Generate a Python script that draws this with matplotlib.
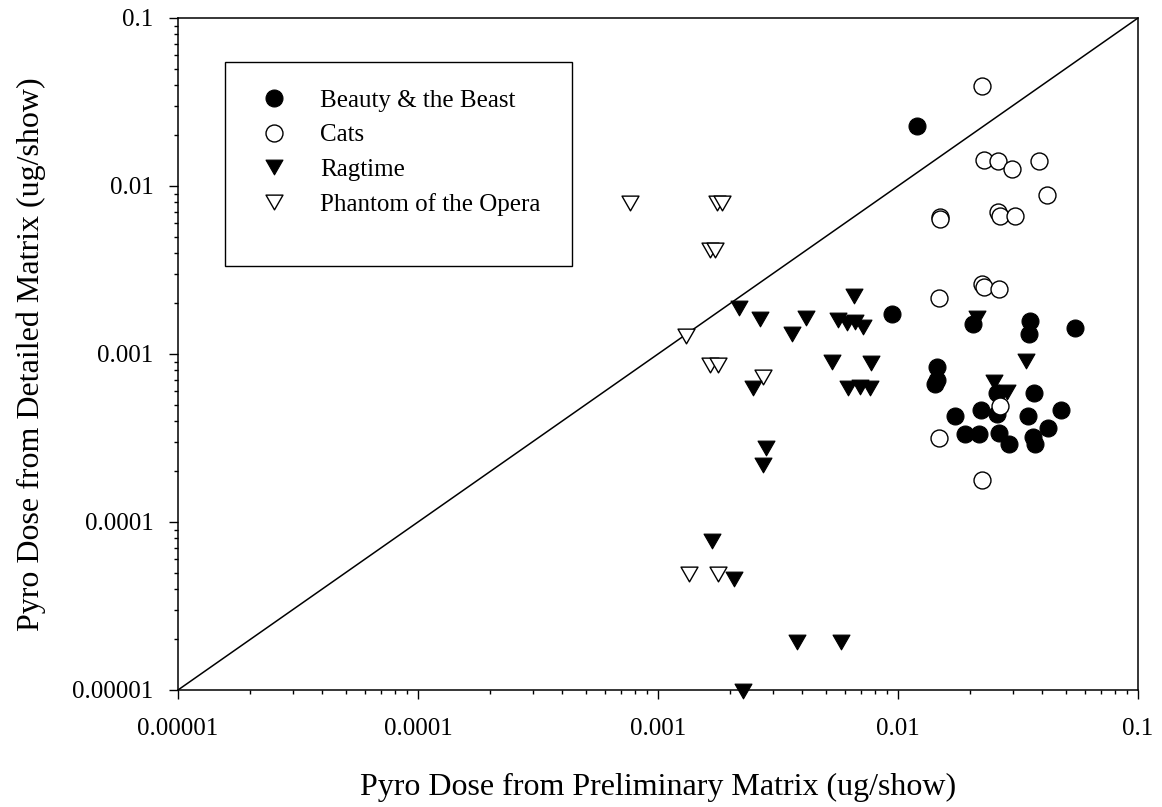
import matplotlib.pyplot as plt
from matplotlib.patches import Rectangle
from matplotlib.path import Path
from matplotlib.ticker import LogLocator

plt.rcParams['font.family'] = ['Liberation Serif', 'DejaVu Serif']

# Beauty & the Beast
beauty_x = [0.0120, 0.0094, 0.0205, 0.0355, 0.0352, 0.0545, 0.0146, 0.0145, 0.0142,
            0.0258, 0.0369, 0.0173, 0.0221, 0.0258, 0.0349, 0.0477, 0.0423, 0.0190,
            0.0217, 0.0263, 0.0290, 0.0364, 0.0372]
beauty_y = [0.0228, 0.00172, 0.00151, 0.00158, 0.00131, 0.00142, 0.000834, 0.00070, 0.000662,
            0.000589, 0.000584, 0.000428, 0.000464, 0.000439, 0.000430, 0.000464, 0.000364, 0.000333,
            0.000333, 0.000337, 0.000291, 0.000322, 0.000291]

# Cats
cats_x = [0.0223, 0.0229, 0.0260, 0.0298, 0.0386, 0.0419, 0.0150, 0.0149, 0.0260,
          0.0266, 0.0307, 0.0223, 0.0229, 0.0263, 0.0148, 0.0266, 0.0148, 0.0223]
cats_y = [0.0395, 0.0142, 0.0140, 0.0126, 0.0140, 0.0088, 0.00652, 0.00637, 0.0070,
          0.00662, 0.00662, 0.0026, 0.00249, 0.00245, 0.00215, 0.00049, 0.000315, 0.000178]

# Ragtime
ragtime_x = [0.00218, 0.00266, 0.00414, 0.00363, 0.00656, 0.00564, 0.00611, 0.00662, 0.00716,
             0.00530, 0.00769, 0.00621, 0.00695, 0.00764, 0.00248, 0.00282, 0.00275, 0.00168,
             0.00207, 0.00380, 0.00577, 0.00226, 0.0213, 0.0340, 0.0251, 0.0285]
ragtime_y = [0.00187, 0.00161, 0.00163, 0.00131, 0.00221, 0.00159, 0.00152, 0.00155, 0.00145,
             0.00090, 0.00088, 0.00063, 0.00064, 0.00063, 0.000625, 0.000275, 0.000218, 0.0000775,
             0.000046, 0.0000194, 0.0000194, 0.0000098, 0.00163, 0.000908, 0.000684, 0.000597]

# Phantom of the Opera
phantom_x = [0.000765, 0.00176, 0.00184, 0.00165, 0.00173, 0.00131, 0.00165, 0.00178,
             0.00275, 0.00135, 0.00177]
phantom_y = [0.00789, 0.00789, 0.00789, 0.00416, 0.00416, 0.00128, 0.00086, 0.00086,
             0.00073, 0.000049, 0.000049]

tick_vals = [0.00001, 0.0001, 0.001, 0.01, 0.1]
tick_text = ['0.00001', '0.0001', '0.001', '0.01', '0.1']

W, H = 1162, 807
fig = plt.figure(figsize=(W / 100, H / 100), dpi=100)
ax = fig.add_axes([178 / W, 1 - 690 / H, 960 / W, 672 / H])
ax.set_xscale('log')
ax.set_yscale('log')
ax.set_xlim(1e-5, 0.1)
ax.set_ylim(1e-5, 0.1)

# 1:1 line
ax.plot([1e-5, 0.1], [1e-5, 0.1], color='black', lw=1.1)

# slightly flattened down-pointing triangle (closed path)
tri = Path([(0, -0.87), (-1, 0.87), (1, 0.87), (0, -0.87)],
           [Path.MOVETO, Path.LINETO, Path.LINETO, Path.CLOSEPOLY])
ms = 12.2

h1, = ax.plot(beauty_x, beauty_y, ls='none', marker='o', ms=ms, mfc='black', mec='black',
              mew=0.8, clip_on=False)
h4, = ax.plot(phantom_x, phantom_y, ls='none', marker=tri, ms=ms, mfc='white', mec='black',
              mew=1.0, clip_on=False)
h3, = ax.plot(ragtime_x, ragtime_y, ls='none', marker=tri, ms=ms, mfc='black', mec='black',
              mew=0.8, clip_on=False)
h2, = ax.plot(cats_x, cats_y, ls='none', marker='o', ms=ms, mfc='white', mec='black',
              mew=1.0, clip_on=False)

ax.xaxis.set_minor_locator(LogLocator(base=10, subs=range(2, 10)))
ax.yaxis.set_minor_locator(LogLocator(base=10, subs=range(2, 10)))
ax.set_xticks(tick_vals, tick_text)
ax.set_yticks(tick_vals, tick_text)
ax.tick_params(which='major', direction='out', length=6.5, width=1.0, labelsize=18,
               top=False, right=False)
ax.tick_params(which='minor', direction='out', length=3.2, width=1.0, top=False, right=False)
ax.tick_params(axis='x', which='major', pad=14)
ax.tick_params(axis='y', which='major', pad=11)
for sp in ax.spines.values():
    sp.set_linewidth(1.1)

ax.set_xlabel('Pyro Dose from Preliminary Matrix (ug/show)', fontsize=23)
ax.set_ylabel('Pyro Dose from Detailed Matrix (ug/show)', fontsize=23)
ax.xaxis.set_label_coords(0.5, -0.124)
ax.yaxis.set_label_coords(-0.137, 0.5)

# legend box
fig.patches.append(Rectangle((225 / W, 1 - 266 / H), (572 - 225) / W, (266 - 62) / H,
                             transform=fig.transFigure, fill=False, ec='black', lw=1.0))
fig.legend([h1, h2, h3, h4],
           ['Beauty & the Beast', 'Cats', 'Ragtime', 'Phantom of the Opera'],
           loc='upper left', bbox_to_anchor=(261.5 / W, 1 - 89 / H), frameon=False,
           fontsize=18, borderpad=0, borderaxespad=0, handlelength=1.0,
           handletextpad=1.34, labelspacing=0.49, numpoints=1)

fig.savefig('out.png', dpi=100)
